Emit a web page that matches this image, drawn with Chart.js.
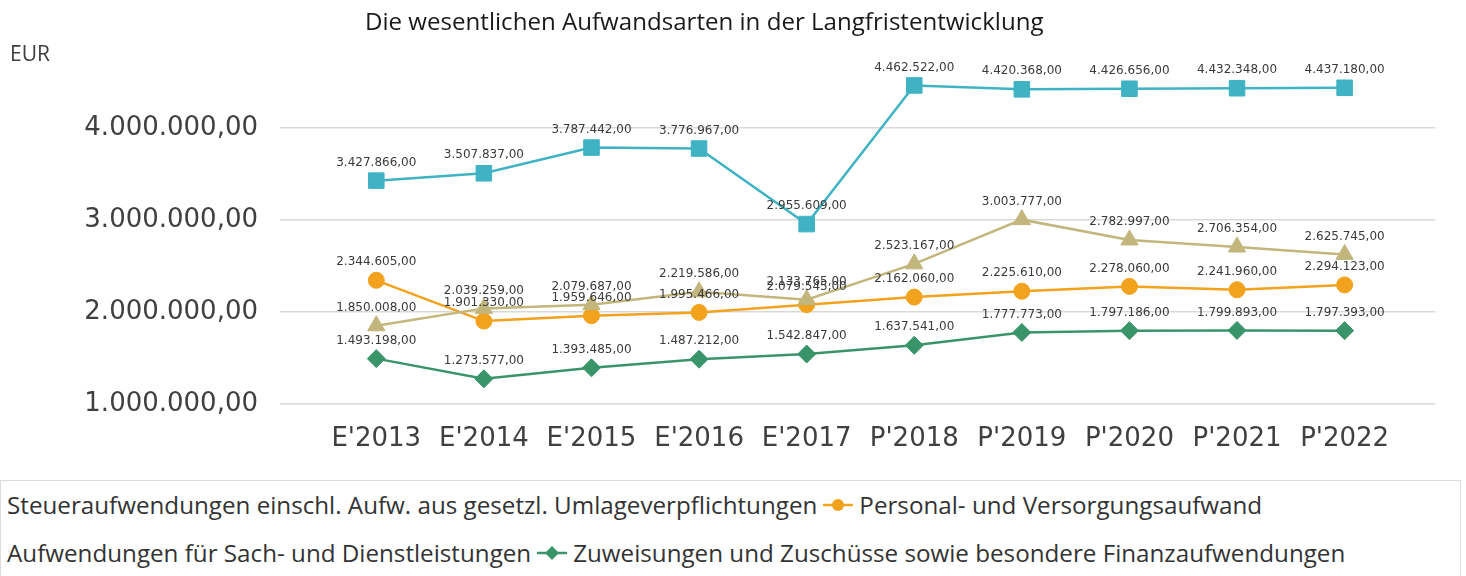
<!DOCTYPE html>
<html>
<head>
<meta charset="utf-8">
<script src="https://cdn.jsdelivr.net/npm/chart.js@4.4.0/dist/chart.umd.min.js"></script>
<style>
  body { margin: 0; background: #fff; width: 1466px; height: 576px; overflow: hidden; position: relative; font-family: 'Open Sans', sans-serif; }
  #wrap { position: absolute; left: 0; top: 0; width: 1466px; height: 480px; }
  #title { position: absolute; top: 4px; left: 365px; font-size: 24.1px; color: #1a1a1a; white-space: nowrap; }
  #eur { position: absolute; left: 10px; top: 39px; font-size: 21px; color: #404040; }
  #legend { position: absolute; left: 0; top: 480px; width: 1461px; height: 110px; border: 1px solid #dcdcdc; box-sizing: border-box; overflow: hidden; }
  .row { position: absolute; left: -36px; white-space: nowrap; font-size: 24.2px; color: #333; display: flex; align-items: center; }
  .row svg { margin: 0 6px 0 6px; }
</style>
</head>
<body>
<div id="wrap"><canvas id="chart" width="1466" height="480"></canvas></div>
<div id="title">Die wesentlichen Aufwandsarten in der Langfristentwicklung</div>
<div id="eur">EUR</div>
<div id="legend"></div>

<script>
// categories and series
const categories = ["E'2013", "E'2014", "E'2015", "E'2016", "E'2017", "P'2018", "P'2019", "P'2020", "P'2021", "P'2022"];
const steuer   = [3427866, 3507837, 3787442, 3776967, 2955609, 4462522, 4420368, 4426656, 4432348, 4437180];
const personal = [2344605, 1901330, 1959646, 1995466, 2079545, 2162060, 2225610, 2278060, 2241960, 2294123];
const sach     = [1850008, 2039259, 2079687, 2219586, 2133765, 2523167, 3003777, 2782997, 2706354, 2625745];
const zuweis   = [1493198, 1273577, 1393485, 1487212, 1542847, 1637541, 1777773, 1797186, 1799893, 1797393];
const seriesNames = [
    'Steueraufwendungen einschl. Aufw. aus gesetzl. Umlageverpflichtungen',
    'Personal- und Versorgungsaufwand',
    'Aufwendungen für Sach- und Dienstleistungen',
    'Zuweisungen und Zuschüsse sowie besondere Finanzaufwendungen'
];
const yTicks = [1000000, 2000000, 3000000, 4000000];

const colors = ['#3fb3c3', '#f2a21d', '#c2b67c', '#3a946a'];
const styles = ['rect', 'circle', 'triangle', 'rectRot'];
const radii  = [11, 8, 10, 9];

function fmt(v) {
    let s = Math.round(v).toString().replace(/\B(?=(\d{3})+(?!\d))/g, '.');
    return s + ',00';
}

function toPoints(arr) {
    return arr.map((v, i) => ({ x: i, y: v }));
}

const allSeries = [steuer, personal, sach, zuweis];

const datasets = allSeries.map((arr, i) => ({
    label: seriesNames[i],
    data: toPoints(arr),
    borderColor: colors[i],
    backgroundColor: colors[i],
    borderWidth: 2.5,
    pointStyle: styles[i],
    pointRadius: radii[i],
    pointBorderWidth: 1,
    order: 4 - i
}));

// value labels above every point
const pointLabels = {
    id: 'pointLabels',
    afterDatasetsDraw(chart) {
        const ctx = chart.ctx;
        ctx.save();
        ctx.font = '12px "DejaVu Sans"';
        ctx.fillStyle = '#3a3a3a';
        ctx.textAlign = 'center';
        ctx.textBaseline = 'bottom';
        chart.data.datasets.forEach((ds, i) => {
            chart.getDatasetMeta(i).data.forEach((pt, j) => {
                ctx.fillText(fmt(ds.data[j].y), pt.x, pt.y - 12);
            });
        });
        ctx.restore();
    }
};

new Chart(document.getElementById('chart'), {
    type: 'line',
    data: { datasets: datasets },
    plugins: [pointLabels],
    options: {
        responsive: false,
        animation: false,
        layout: { padding: { top: 59, right: 31, left: 0, bottom: 0 } },
        plugins: {
            legend: { display: false },
            tooltip: { enabled: false },
            title: { display: false }
        },
        scales: {
            x: {
                type: 'linear',
                min: -0.895,
                max: 9.84,
                grid: { display: false, drawTicks: false },
                border: { display: false },
                afterBuildTicks: (scale) => { scale.ticks = categories.map((c, i) => ({ value: i })); },
                afterFit: (scale) => { scale.height = 76; },
                ticks: {
                    autoSkip: false,
                    maxRotation: 0,
                    padding: 20,
                    color: '#404040',
                    font: { family: 'DejaVu Sans', size: 26 },
                    callback: (v) => categories[v]
                }
            },
            y: {
                min: 1000000,
                max: 4750000,
                grid: { color: '#d9d9d9', lineWidth: 1.5, drawTicks: false },
                border: { display: false },
                afterBuildTicks: (scale) => { scale.ticks = yTicks.map(v => ({ value: v })); },
                afterFit: (scale) => { scale.width = 280; },
                ticks: {
                    padding: 22,
                    color: '#404040',
                    font: { family: 'DejaVu Sans', size: 26 },
                    callback: (v) => fmt(v)
                }
            }
        }
    }
});

// legend (two rows, like the original box)
function marker(i) {
    const c = colors[i];
    let shape = '';
    if (styles[i] === 'rect') shape = `<rect x="9" y="3" width="12" height="12" fill="${c}"/>`;
    if (styles[i] === 'circle') shape = `<circle cx="15" cy="9" r="6" fill="${c}"/>`;
    if (styles[i] === 'triangle') shape = `<polygon points="15,2 22,15 8,15" fill="${c}"/>`;
    if (styles[i] === 'rectRot') shape = `<polygon points="15,2 22,9 15,16 8,9" fill="${c}"/>`;
    return `<svg width="30" height="18"><line x1="0" y1="9" x2="30" y2="9" stroke="${c}" stroke-width="2.5"/>${shape}</svg>`;
}

const legend = document.getElementById('legend');
[[0, 1], [2, 3]].forEach((pair, r) => {
    const row = document.createElement('div');
    row.className = 'row';
    row.style.top = (r === 0 ? 7 : 55) + 'px';
    row.innerHTML = pair.map(i => marker(i) + '<span>' + seriesNames[i] + '</span>').join('');
    legend.appendChild(row);
});
</script>
</body>
</html>
